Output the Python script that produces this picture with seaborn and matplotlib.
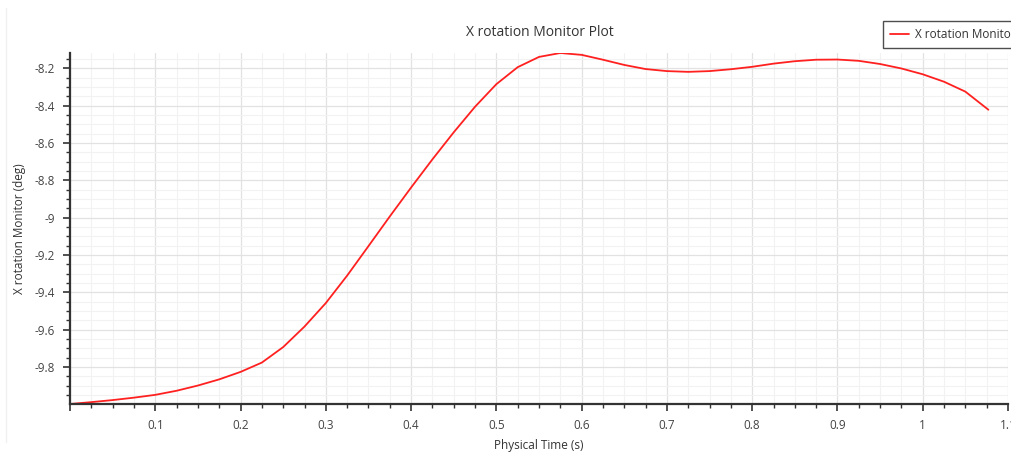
import matplotlib
matplotlib.use("Agg")
import matplotlib.pyplot as plt
from matplotlib.ticker import MultipleLocator, FuncFormatter
from matplotlib.lines import Line2D
import seaborn as sns
import pandas as pd

# Data
time_s = [0.0, 0.025, 0.05, 0.075, 0.1, 0.125, 0.15, 0.175, 0.2, 0.225,
          0.25, 0.275, 0.3, 0.325, 0.35, 0.375, 0.4, 0.425, 0.45, 0.475,
          0.5, 0.525, 0.55, 0.575, 0.6, 0.625, 0.65, 0.675, 0.7, 0.725,
          0.75, 0.775, 0.8, 0.825, 0.85, 0.875, 0.9, 0.925, 0.95, 0.975,
          1.0, 1.025, 1.05, 1.077]
x_rotation = [-9.998, -9.988, -9.977, -9.964, -9.949, -9.927, -9.899, -9.866, -9.826, -9.776,
              -9.693, -9.583, -9.457, -9.310, -9.152, -8.993, -8.838, -8.687, -8.542, -8.405,
              -8.284, -8.193, -8.138, -8.117, -8.127, -8.153, -8.181, -8.203, -8.214, -8.218,
              -8.214, -8.204, -8.191, -8.174, -8.161, -8.153, -8.152, -8.159, -8.176, -8.200,
              -8.231, -8.271, -8.324, -8.421]
series_name = "X rotation Monitor"
title = "X rotation Monitor Plot"
x_label = "Physical Time (s)"
y_label = "X rotation Monitor (deg)"

sns.set_style("white")
plt.rcParams["font.family"] = ["Open Sans", "DejaVu Sans"]

df = pd.DataFrame({"t": time_s, "v": x_rotation, "series": series_name})

fig = plt.figure(figsize=(10.11, 4.54), dpi=100)
ax = fig.add_axes([70 / 1011, 1 - 404 / 454, 938 / 1011, 351 / 454])

sns.lineplot(data=df, x="t", y="v", hue="series", palette=["#ff2020"],
             linewidth=1.3, ax=ax, legend=False, sort=False, estimator=None)

ax.set_xlim(0, 1.1)
ax.set_ylim(min(x_rotation), max(x_rotation))

ax.xaxis.set_major_locator(MultipleLocator(0.1))
ax.xaxis.set_minor_locator(MultipleLocator(0.025))
ax.yaxis.set_major_locator(MultipleLocator(0.2))
ax.yaxis.set_minor_locator(MultipleLocator(0.05))
fmt = FuncFormatter(lambda v, p: ("%g" % round(v, 6)) if abs(v) > 1e-9 else "")
ax.xaxis.set_major_formatter(fmt)
ax.yaxis.set_major_formatter(FuncFormatter(lambda v, p: "%g" % round(v, 6)))

ax.grid(True, which="major", color="#e2e2e2", linewidth=0.9)
ax.grid(True, which="minor", color="#f2f2f2", linewidth=0.8)
ax.set_axisbelow(True)

for s in ["top", "right"]:
    ax.spines[s].set_visible(False)
for s in ["left", "bottom"]:
    ax.spines[s].set_color("#333333")
    ax.spines[s].set_linewidth(1.6)

ax.tick_params(which="major", direction="out", length=5, width=1.2, color="#333333",
               labelsize=8.5, labelcolor="#444444", pad=6)
ax.tick_params(which="minor", direction="out", length=3, width=1.0, color="#333333")
ax.tick_params(axis="y", which="both", left=True)
ax.tick_params(axis="x", which="both", bottom=True)

ax.set_xlabel(x_label, fontsize=8.5, color="#333333")
ax.set_ylabel(y_label, fontsize=8.5, color="#333333")
ax.xaxis.set_label_coords(0.5, (404 - 445) / 351)
ax.xaxis.label.set_va("center")
ax.yaxis.set_label_coords((20 - 70) / 938, 0.5)
ax.yaxis.label.set_va("center")
fig.text(540 / 1011, 1 - 32 / 454, title, ha="center", va="center",
         fontsize=10, color="#333333")

handles = [Line2D([], [], color="#ff2020", linewidth=1.3)]
leg = fig.legend(handles, [series_name], loc="upper left",
                 bbox_to_anchor=(883 / 1011, 1 - 21 / 454), fontsize=8.5,
                 frameon=True, fancybox=False, borderaxespad=0,
                 handlelength=1.6, handletextpad=0.5, borderpad=0.6)
leg.get_frame().set_edgecolor("#222222")
leg.get_frame().set_linewidth(1.0)
for t in leg.get_texts():
    t.set_color("#333333")

fig.add_artist(Line2D([6 / 1011, 6 / 1011], [1 - 442 / 454, 1 - 8 / 454],
                      color="#f0f0f0", linewidth=1.0))

fig.savefig("out.png", dpi=100, facecolor="white")
